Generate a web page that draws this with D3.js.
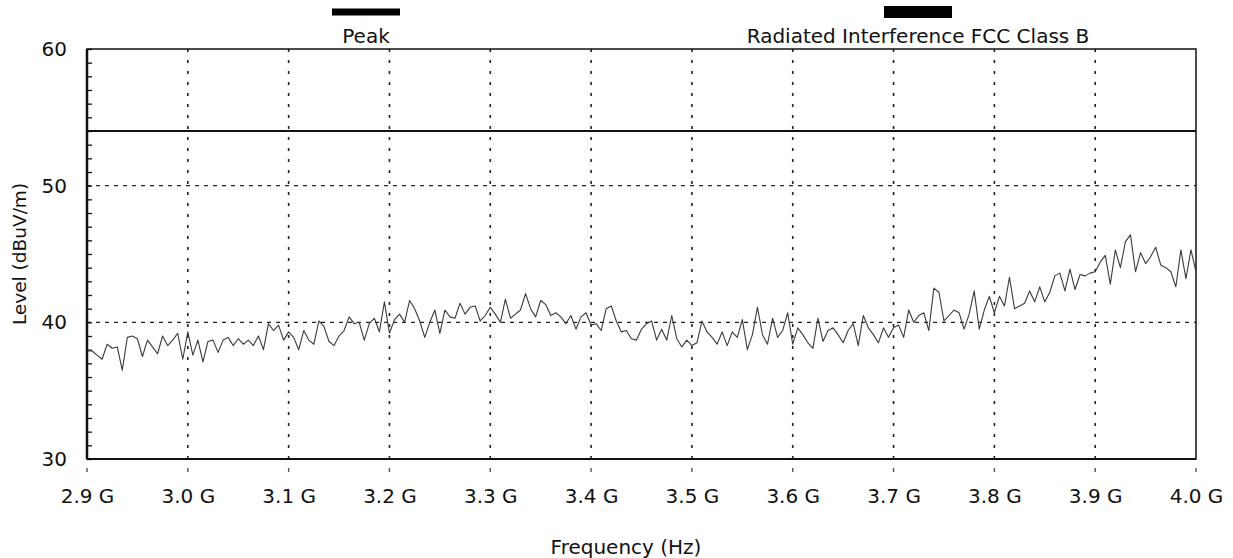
<!DOCTYPE html>
<html>
<head>
<meta charset="utf-8">
<script src="https://cdn.jsdelivr.net/npm/d3@7"></script>
<style>
body{margin:0;background:#fff;}
text{font-family:"DejaVu Sans",Verdana,sans-serif;fill:#111;}
</style>
</head>
<body>
<script>
// sweep: 2.9 GHz to 4.0 GHz, one reading every 5 MHz
var freqStart = 2.9;
var freqStep = 0.005;

// peak readings (dBuV/m)
var peakLevels = [
 37.9,37.9,37.6,37.3,38.4,38.1,38.2,36.5,38.9,39.0, 38.8,37.5,38.7,38.2,37.7,39.0,38.3,38.7,39.2,37.3,
 39.3,37.6,38.7,37.1,38.6,38.7,37.8,38.7,38.9,38.3, 38.8,38.4,38.7,38.3,39.0,38.0,39.9,39.4,39.8,38.7,
 39.3,38.9,38.0,39.4,38.7,38.4,40.1,39.7,38.6,38.3, 39.0,39.4,40.4,39.9,40.0,38.7,39.9,40.3,39.3,41.5,
 39.2,40.2,40.6,40.0,41.6,41.0,40.1,38.9,40.0,40.9, 39.2,40.9,40.4,40.3,41.4,40.6,41.1,41.2,40.1,40.5,
 41.1,40.6,40.0,41.7,40.3,40.6,40.9,42.1,41.0,40.4, 41.6,41.3,40.5,40.7,40.4,39.9,40.5,39.5,40.4,40.7,
 39.8,39.9,39.4,41.0,41.2,40.1,39.3,39.4,38.8,38.7, 39.5,39.9,40.1,38.7,39.5,38.7,40.5,38.8,38.2,38.7,
 38.3,38.5,40.1,39.3,38.9,38.4,39.3,38.3,39.3,38.9, 40.2,38.0,39.1,41.1,39.1,38.4,40.3,38.9,39.4,40.7,
 38.4,39.6,39.1,38.5,38.1,40.3,38.6,39.4,39.6,39.1, 38.5,39.4,39.9,38.3,40.5,39.6,39.1,38.5,39.6,38.9,
 39.6,39.8,38.9,40.9,40.0,40.5,40.7,39.4,42.5,42.2, 40.1,40.5,40.9,40.7,39.5,40.6,42.3,39.5,40.9,41.9,
 40.7,41.9,41.2,43.3,41.0,41.2,41.4,42.3,41.5,42.6, 41.5,42.2,43.4,43.6,42.3,43.9,42.4,43.5,43.4,43.6,
 43.7,44.4,44.9,42.8,45.3,44.0,45.9,46.4,43.7,45.1, 44.3,44.8,45.5,44.2,44.0,43.7,42.6,45.3,43.2,45.3,
 43.7
];

var limitLevel = 54; // FCC class B line

var xTicks = [2.9,3.0,3.1,3.2,3.3,3.4,3.5,3.6,3.7,3.8,3.9,4.0];
var yTicks = [30,40,50,60];
var legendNames = ["Peak","Radiated Interference FCC Class B"];

var W = 1233, H = 558;
// plot box (don't call these top/left, window.top is taken)
var pL = 87, pR = 1196, pT = 49, pB = 459;

var svg = d3.select("body").append("svg")
	.attr("width", W)
	.attr("height", H);

var x = d3.scaleLinear().domain([2.9, 4.0]).range([pL, pR]);
var y = d3.scaleLinear().domain([30, 60]).range([pB, pT]);

// grid, vertical dotted
svg.append("g").selectAll("line")
	.data(xTicks.slice(1, -1))
	.enter().append("line")
	.attr("x1", function(d){ return x(d); })
	.attr("x2", function(d){ return x(d); })
	.attr("y1", pT)
	.attr("y2", pB)
	.attr("stroke", "#222")
	.attr("stroke-width", 1.6)
	.attr("stroke-dasharray", "3,8");

// small marks under the axis
svg.append("g").selectAll("line")
	.data(xTicks)
	.enter().append("line")
	.attr("x1", function(d){ return x(d); })
	.attr("x2", function(d){ return x(d); })
	.attr("y1", pB + 9)
	.attr("y2", pB + 13)
	.attr("stroke", "#555")
	.attr("stroke-width", 1.4);

// grid, horizontal dashed
svg.append("g").selectAll("line")
	.data(yTicks.slice(1, -1))
	.enter().append("line")
	.attr("x1", pL)
	.attr("x2", pR)
	.attr("y1", function(d){ return y(d); })
	.attr("y2", function(d){ return y(d); })
	.attr("stroke", "#222")
	.attr("stroke-width", 1.2)
	.attr("stroke-dasharray", "4,5");

// frame
svg.append("rect")
	.attr("x", pL).attr("y", pT)
	.attr("width", pR - pL).attr("height", pB - pT)
	.attr("fill", "none")
	.attr("stroke", "#111")
	.attr("stroke-width", 1.5);

// minor ticks on the left, every 1 dB
var minor = svg.append("g")
	.attr("transform", "translate(" + pL + ",0)")
	.call(d3.axisRight(y).tickValues(d3.range(30, 61)).tickSize(5).tickFormat(""));
minor.select(".domain").remove();
minor.selectAll("line").attr("stroke", "#111").attr("stroke-width", 1.3);

// axis lines, left and bottom heavier
svg.append("line").attr("x1", pL).attr("x2", pL).attr("y1", pT).attr("y2", pB)
	.attr("stroke", "#111").attr("stroke-width", 2.5);
svg.append("line").attr("x1", pL).attr("x2", pR).attr("y1", pB).attr("y2", pB)
	.attr("stroke", "#111").attr("stroke-width", 2.2);

var yAxis = svg.append("g")
	.attr("transform", "translate(" + pL + ",0)")
	.call(d3.axisLeft(y).tickValues(yTicks).tickSize(0).tickPadding(20).tickFormat(d3.format("d")));
yAxis.select(".domain").remove();
yAxis.selectAll("text").style("font-size", "20px").attr("fill", "#111");

var xAxis = svg.append("g")
	.attr("transform", "translate(0," + pB + ")")
	.call(d3.axisBottom(x).tickValues(xTicks).tickSize(0).tickPadding(30)
		.tickFormat(function(d){ return d.toFixed(1) + " G"; }));
xAxis.select(".domain").remove();
xAxis.selectAll("text").style("font-size", "20px").attr("fill", "#111");

// limit line
svg.append("line")
	.attr("x1", pL).attr("x2", pR)
	.attr("y1", y(limitLevel)).attr("y2", y(limitLevel))
	.attr("stroke", "#111")
	.attr("stroke-width", 2.2);

// peak trace
var line = d3.line()
	.x(function(d, i){ return x(freqStart + i * freqStep); })
	.y(function(d){ return y(d); });

svg.append("path")
	.datum(peakLevels)
	.attr("d", line)
	.attr("fill", "none")
	.attr("stroke", "#3a3a3a")
	.attr("stroke-width", 1.1)
	.attr("stroke-linejoin", "round");

// legend at the top
var legendX = [366, 918];
var legendBarH = [7, 12];
var legend = svg.append("g").selectAll("g")
	.data(legendNames)
	.enter().append("g")
	.attr("transform", function(d, i){ return "translate(" + legendX[i] + ",0)"; });

legend.append("rect")
	.attr("x", -34)
	.attr("y", function(d, i){ return 12 - legendBarH[i] / 2; })
	.attr("width", 68)
	.attr("height", function(d, i){ return legendBarH[i]; })
	.attr("fill", "#000");

legend.append("text")
	.attr("y", 43)
	.attr("text-anchor", "middle")
	.style("font-size", "20px")
	.text(function(d){ return d; });

// axis titles
svg.append("text")
	.attr("transform", "translate(26," + ((pT + pB) / 2) + ") rotate(-90)")
	.attr("text-anchor", "middle")
	.style("font-size", "18.5px")
	.text("Level (dBuV/m)");

svg.append("text")
	.attr("x", 626)
	.attr("y", 554)
	.attr("text-anchor", "middle")
	.style("font-size", "20px")
	.text("Frequency (Hz)");
</script>
</body>
</html>
